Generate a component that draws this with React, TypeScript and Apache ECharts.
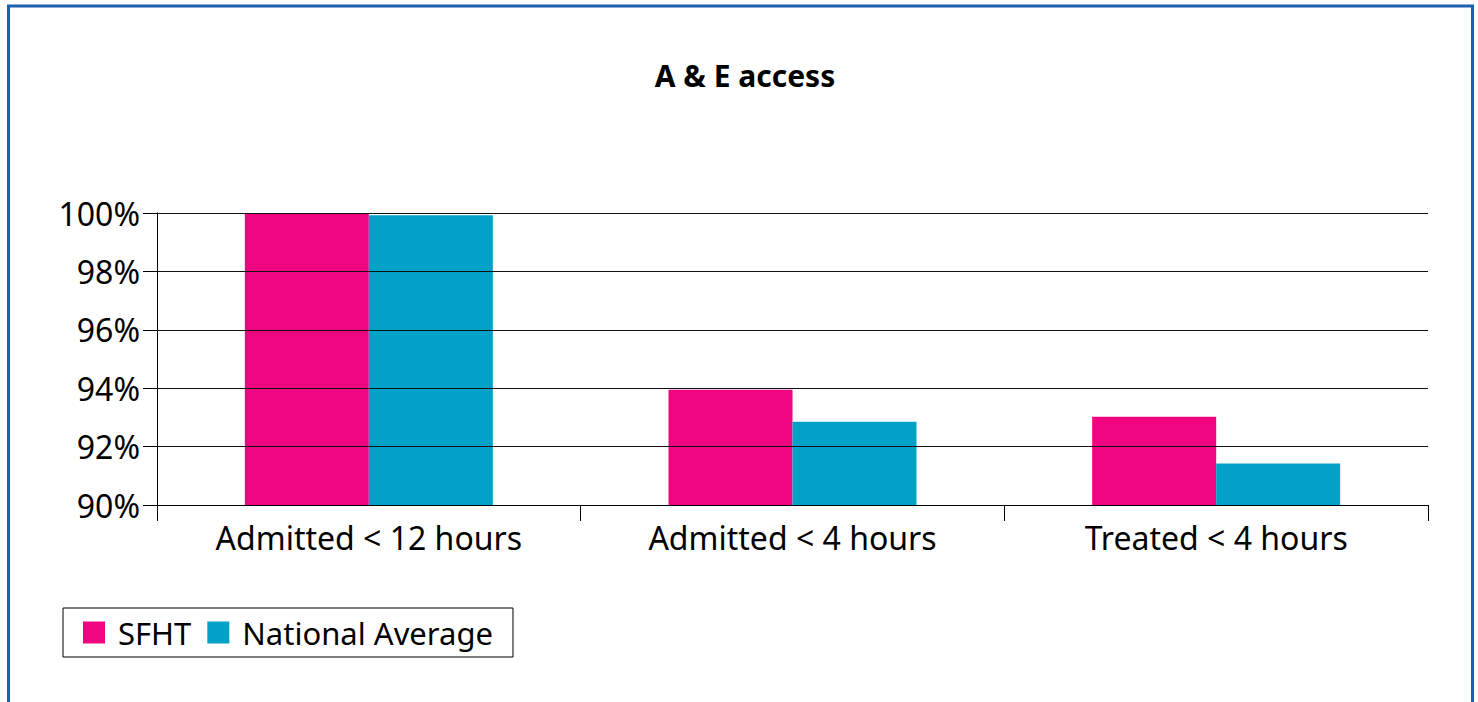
import React, { useEffect, useRef } from "react";
import * as echarts from "echarts";

const categories = ["Admitted < 12 hours", "Admitted < 4 hours", "Treated < 4 hours"];
const sfht = [100, 93.95, 93.02];
const nationalAverage = [99.92, 92.85, 91.42];
const seriesNames = ["SFHT", "National Average"];

const FONT = "'Noto Sans', 'Open Sans', sans-serif";

export default function App() {
  const ref = useRef<HTMLDivElement>(null);
  useEffect(() => {
    document.body.style.margin = "0";
    const chart = echarts.init(ref.current!, null, { renderer: "svg" });
    chart.setOption({
      animation: false,
      backgroundColor: "#fff",
      title: {
        text: "A & E access",
        left: 740,
        textAlign: "center",
        top: 55,
        textStyle: { fontFamily: FONT, fontSize: 30, fontWeight: "bold", color: "#000" },
      },
      graphic: [
        {
          type: "rect",
          shape: { x: 8.5, y: 6, width: 1464, height: 740 },
          style: { fill: "none", stroke: "#1c60b0", lineWidth: 3 },
          silent: true,
        },
      ],
      legend: {
        left: 63,
        top: 608,
        orient: "horizontal",
        data: seriesNames,
        icon: "rect",
        itemWidth: 22,
        itemHeight: 22,
        itemGap: 16,
        borderColor: "#000",
        borderWidth: 1,
        padding: [9, 20, 9, 20],
        textStyle: { fontFamily: FONT, fontSize: 31, color: "#000", padding: [0, 0, 0, 8] },
      },
      grid: { left: 157, right: 50, top: 213, bottom: 197, containLabel: false },
      xAxis: {
        type: "category",
        data: categories,
        axisLine: { show: true, lineStyle: { color: "#000", width: 1 } },
        axisTick: { show: true, length: 16, lineStyle: { color: "#000" } },
        axisLabel: { fontFamily: FONT, fontSize: 32, color: "#000", margin: 16 },
        z: 5,
      },
      yAxis: {
        type: "value",
        min: 90,
        max: 100,
        interval: 2,
        axisLine: { show: true, lineStyle: { color: "#000", width: 1 } },
        axisTick: { show: true, length: 14, lineStyle: { color: "#000" } },
        axisLabel: { fontFamily: FONT, fontSize: 32, color: "#000", margin: 17, formatter: "{value}%" },
        splitLine: { show: true, lineStyle: { color: "#111", width: 1 } },
        z: 5,
      },
      series: [
        {
          name: seriesNames[0],
          type: "bar",
          data: sfht,
          barWidth: 124,
          barGap: "0%",
          itemStyle: { color: "#ee057f" },
          z: 2,
        },
        {
          name: seriesNames[1],
          type: "bar",
          data: nationalAverage,
          barWidth: 124,
          barGap: "0%",
          itemStyle: { color: "#02a2c8" },
          z: 2,
        },
      ],
    });
    return () => chart.dispose();
  }, []);
  return <div ref={ref} style={{ width: 1478, height: 702 }} />;
}
